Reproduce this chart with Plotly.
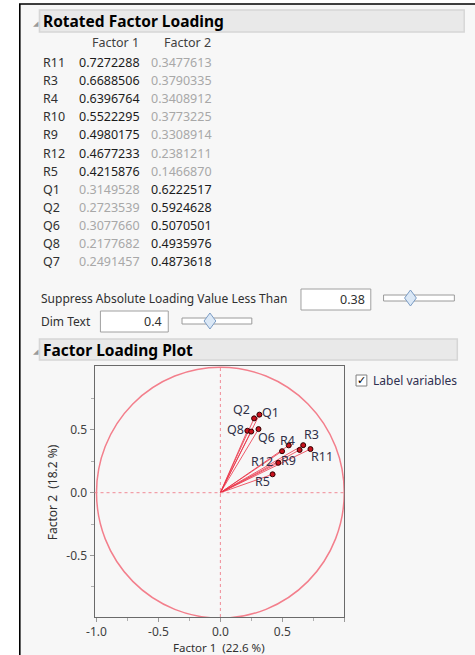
import plotly.graph_objects as go

# ---------------- data ----------------
variables = ["R11", "R3", "R4", "R10", "R9", "R12", "R5", "Q1", "Q2", "Q6", "Q8", "Q7"]
factor1 = [0.7272288, 0.6688506, 0.6396764, 0.5522295, 0.4980175, 0.4677233, 0.4215876,
           0.3149528, 0.2723539, 0.3077660, 0.2177682, 0.2491457]
factor2 = [0.3477613, 0.3790335, 0.3408912, 0.3773225, 0.3308914, 0.2381211, 0.1466870,
           0.6222517, 0.5924628, 0.5070501, 0.4935976, 0.4873618]
factor_names = ["Factor 1", "Factor 2"]
pct_explained = [22.6, 18.2]
suppress_value = 0.38
dim_value = 0.4
x_ticks = [-1.0, -0.5, 0.0, 0.5, 1.0]
x_tick_labels = ["-1.0", "-0.5", "0.0", "0.5", ""]
y_ticks = [-0.5, 0.0, 0.5]
y_tick_labels = ["-0.5", "0.0", "0.5"]
labeled_vars = ["Q2", "Q1", "Q8", "Q6", "R4", "R3", "R11", "R12", "R9", "R5"]

# label offsets (pixels) - styling only
label_offsets = {"Q2": (-13, 9), "Q1": (11, 2), "Q8": (-12, 1), "Q6": (8, -8),
                 "R4": (-12, 9), "R3": (8, 11), "R11": (12, -7), "R12": (-16, 1),
                 "R9": (6, -9), "R5": (-10, -7)}

W, H = 475, 655
FONT = "Noto Sans"


def px(x):
    return x / W


def py(y):
    return 1 - y / H


fig = go.Figure()
shapes = []
ann = []

# outer frame / background
shapes.append(dict(type="rect", xref="paper", yref="paper", x0=px(12), x1=px(480),
                   y0=py(4), y1=py(660), fillcolor="#f7f7f7",
                   line=dict(color="#000000", width=1.6), layer="below"))

# section headers
for (y0, y1, x0, x1, title) in [(10, 32, 32, 464, "Rotated Factor Loading"),
                                (339, 360, 32, 457, "Factor Loading Plot")]:
    shapes.append(dict(type="rect", xref="paper", yref="paper", x0=px(x0), x1=px(x1),
                       y0=py(y0), y1=py(y1), fillcolor="#e9e9e9",
                       line=dict(color="#d6d6d6", width=1.5), layer="below"))
    ann.append(dict(x=px(34), y=py((y0 + y1) / 2), xref="paper", yref="paper", text="<b>" + title + "</b>",
                    showarrow=False, xanchor="left", yanchor="middle",
                    font=dict(family=FONT, size=15.5, color="#000000")))
    ann.append(dict(x=px(28), y=py((y0 + y1) / 2 + 2), xref="paper", yref="paper", text="◢",
                    showarrow=False, xanchor="center", yanchor="middle",
                    font=dict(family=FONT, size=7, color="#9a9a9a")))

# table
col_right = [136, 210]
for j, name in enumerate(factor_names):
    ann.append(dict(x=px(col_right[j] - 1), y=py(43), xref="paper", yref="paper", text=name,
                    showarrow=False, xanchor="right", yanchor="middle",
                    font=dict(family=FONT, size=12.5, color="#404040")))
for i, v in enumerate(variables):
    yy = 62.5 + i * 18.1
    ann.append(dict(x=px(34), y=py(yy), xref="paper", yref="paper", text=v,
                    showarrow=False, xanchor="left", yanchor="middle",
                    font=dict(family=FONT, size=12.5, color="#303030")))
    for j, vals in enumerate([factor1, factor2]):
        val = vals[i]
        col = "#1c1c1c" if abs(val) >= dim_value else "#a8a8a8"
        ann.append(dict(x=px(col_right[j]), y=py(yy), xref="paper", yref="paper",
                        text=f"{val:.7f}", showarrow=False, xanchor="right", yanchor="middle",
                        font=dict(family=FONT, size=12.5, color=col)))

# controls
ann.append(dict(x=px(32), y=py(298), xref="paper", yref="paper",
                text="Suppress Absolute Loading Value Less Than", showarrow=False,
                xanchor="left", yanchor="middle", font=dict(family=FONT, size=12, color="#303030")))
ann.append(dict(x=px(32), y=py(321), xref="paper", yref="paper", text="Dim Text", showarrow=False,
                xanchor="left", yanchor="middle", font=dict(family=FONT, size=12, color="#303030")))
for (x0, x1, y0, y1, val) in [(298, 369, 289, 310, suppress_value), (94, 163, 311, 332, dim_value)]:
    shapes.append(dict(type="rect", xref="paper", yref="paper", x0=px(x0), x1=px(x1), y0=py(y0), y1=py(y1),
                       fillcolor="#ffffff", line=dict(color="#a0a0a0", width=1)))
    ann.append(dict(x=px(x1 - 4), y=py((y0 + y1) / 2), xref="paper", yref="paper", text=f"{val:g}",
                    showarrow=False, xanchor="right", yanchor="middle",
                    font=dict(family=FONT, size=12.5, color="#303030")))
for (x0, x1, yc, frac) in [(382, 454, 298, suppress_value), (177, 248, 321, dim_value)]:
    shapes.append(dict(type="rect", xref="paper", yref="paper", x0=px(x0), x1=px(x1), y0=py(yc - 3),
                       y1=py(yc + 3), fillcolor="#ffffff", line=dict(color="#9a9a9a", width=1)))
    tx = x0 + frac * (x1 - x0)
    path = (f"M {px(tx)} {py(yc - 8)} L {px(tx + 6)} {py(yc)} L {px(tx)} {py(yc + 8)} "
            f"L {px(tx - 6)} {py(yc)} Z")
    shapes.append(dict(type="path", xref="paper", yref="paper", path=path,
                       fillcolor="#dbe8f6", line=dict(color="#7b9cc4", width=1)))

# checkbox
shapes.append(dict(type="rect", xref="paper", yref="paper", x0=px(354), x1=px(365), y0=py(375), y1=py(386),
                   fillcolor="#ffffff", line=dict(color="#808080", width=1)))
ann.append(dict(x=px(359.5), y=py(380.5), xref="paper", yref="paper", text="✓", showarrow=False,
                xanchor="center", yanchor="middle", font=dict(family="DejaVu Sans", size=11, color="#000000")))
ann.append(dict(x=px(369), y=py(380), xref="paper", yref="paper", text="Label variables", showarrow=False,
                xanchor="left", yanchor="middle", font=dict(family=FONT, size=12, color="#303050")))

# plot reference shapes: unit circle and dotted axes
shapes.append(dict(type="circle", xref="x", yref="y", x0=-1, x1=1, y0=-1, y1=1,
                   line=dict(color="#f37f8c", width=1.5), layer="above"))
shapes.append(dict(type="line", xref="x", yref="paper", x0=0, x1=0, y0=py(617), y1=py(366),
                   line=dict(color="#f08a96", width=1, dash="dot")))
shapes.append(dict(type="line", xref="paper", yref="y", x0=px(88), x1=px(342), y0=0, y1=0,
                   line=dict(color="#f08a96", width=1, dash="dot")))

# rays from origin
rx, ry = [], []
for a, b in zip(factor1, factor2):
    rx += [0, a, None]
    ry += [0, b, None]
fig.add_trace(go.Scatter(x=rx, y=ry, mode="lines", line=dict(color="rgba(235,50,70,0.8)", width=1),
                         hoverinfo="skip", showlegend=False))
fig.add_trace(go.Scatter(x=factor1, y=factor2, mode="markers", text=variables,
                         marker=dict(size=5, color="#c8101c", line=dict(color="#300000", width=1)),
                         showlegend=False))

for v in labeled_vars:
    i = variables.index(v)
    dx, dy = label_offsets[v]
    ann.append(dict(x=factor1[i], y=factor2[i], xref="x", yref="y", text=v, showarrow=False,
                    xshift=dx, yshift=dy, xanchor="center", yanchor="middle",
                    font=dict(family=FONT, size=12.5, color="#303048")))

# axis titles
ann.append(dict(x=px(215), y=py(647.5), xref="paper", yref="paper",
                text=f"{factor_names[0]}  ({pct_explained[0]} %)", showarrow=False,
                xanchor="center", yanchor="middle", font=dict(family=FONT, size=11.5, color="#303030")))
ann.append(dict(x=px(45), y=py(492), xref="paper", yref="paper",
                text=f"{factor_names[1]}  ({pct_explained[1]} %)", showarrow=False, textangle=-90,
                xanchor="center", yanchor="middle", font=dict(family=FONT, size=12, color="#303030")))

axis_common = dict(showgrid=False, zeroline=False, showline=True, mirror=True, linecolor="#6a6a6a",
                   linewidth=1, ticks="outside", ticklen=4, tickcolor="#9a9a9a",
                   tickfont=dict(family=FONT, size=12, color="#404040"), tickmode="array")

fig.update_layout(
    width=W, height=H, margin=dict(l=0, r=0, t=0, b=0),
    paper_bgcolor="#ffffff", plot_bgcolor="#ffffff",
    xaxis=dict(domain=[px(88), px(342)], range=[-1.016, 1.0], tickvals=x_ticks, ticktext=x_tick_labels,
               ticklabelstandoff=0,
               minor=dict(tickmode="array", tickvals=[-0.75, -0.25, 0.25, 0.75], ticks="outside",
                          ticklen=3, tickcolor="#b0b0b0"), **axis_common),
    yaxis=dict(domain=[py(617), py(366)], range=[-0.991, 1.010], tickvals=y_ticks, ticktext=y_tick_labels,
               minor=dict(tickmode="array", tickvals=[-0.75, -0.25, 0.25, 0.75], ticks="outside",
                          ticklen=3, tickcolor="#b0b0b0"), **axis_common),
    shapes=shapes, annotations=ann, showlegend=False,
)

fig.write_html("out.html", config={"displayModeBar": False},
               post_script="document.body.style.margin='0px';document.body.style.overflow='hidden';")
